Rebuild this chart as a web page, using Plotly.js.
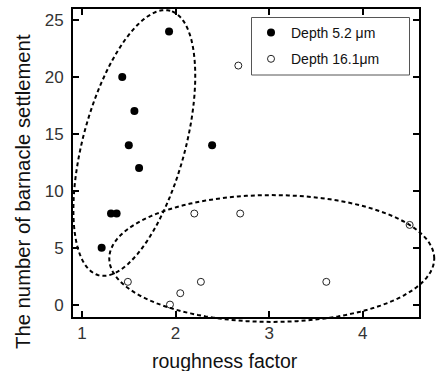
<!DOCTYPE html>
<html>
<head>
<meta charset="utf-8">
<script src="https://cdn.plot.ly/plotly-3.0.1.min.js"></script>
<style>html,body{margin:0;padding:0;background:#fff;}#chart{width:436px;height:371px;}</style>
</head>
<body>
<div id="chart"></div>
<script>
// Depth 5.2 µm (filled circles)
var shallowX = [1.93, 1.43, 1.56, 1.50, 1.61, 2.39, 1.31, 1.37, 1.21];
var shallowY = [24, 20, 17, 14, 12, 14, 8, 8, 5];
// Depth 16.1 µm (open circles)
var deepX = [2.67, 1.49, 2.05, 1.94, 2.20, 2.27, 2.69, 3.61, 4.50];
var deepY = [21, 2, 1, 0, 8, 2, 8, 2, 7];
var seriesNames = ['Depth 5.2 μm', 'Depth 16.1μm'];
var xTicks = [1, 2, 3, 4];
var yTicks = [0, 5, 10, 15, 20, 25];
var xTitle = 'roughness factor';
var yTitle = 'The number of barnacle settlement';

var W = 436, H = 371;
var M = {l: 73, r: 17, t: 9, b: 54};
var xr = [0.904, 4.60], yr = [-1.09, 25.97];
var pw = W - M.l - M.r, ph = H - M.t - M.b;

// dashed grouping ellipses: center in data units, semi-axes in px, angle in deg
function ellipsePath(cx, cy, a, b, ang) {
  var pcx = (cx - xr[0]) / (xr[1] - xr[0]) * pw;
  var pcy = (cy - yr[0]) / (yr[1] - yr[0]) * ph;
  var th = ang * Math.PI / 180, d = '';
  for (var i = 0; i <= 120; i++) {
    var t = i / 120 * 2 * Math.PI;
    var u = a * Math.cos(t), v = b * Math.sin(t);
    var dx = u * Math.cos(th) - v * Math.sin(th);
    var dy = u * Math.sin(th) + v * Math.cos(th);
    d += (i === 0 ? 'M' : 'L') + ((pcx + dx) / pw).toFixed(4) + ',' + ((pcy + dy) / ph).toFixed(4);
  }
  return d + 'Z';
}
var dashLine = {color: '#000', width: 2, dash: '4px,3px'};

var traces = [
  {x: shallowX, y: shallowY, mode: 'markers', type: 'scatter', name: seriesNames[0], legendgroup: 'a',
   marker: {color: '#000', size: 8, line: {width: 0}}},
  {x: deepX, y: deepY, mode: 'markers', type: 'scatter', name: seriesNames[1], legendgroup: 'b',
   marker: {color: '#fff', size: 7, symbol: 'circle', line: {color: '#222', width: 1}}}
];

var axisCommon = {
  showgrid: false, zeroline: false, showline: true, linecolor: '#000', linewidth: 2,
  mirror: 'allticks', ticks: 'inside', ticklen: 6, tickwidth: 2, tickcolor: '#000',
  tickfont: {family: 'Liberation Sans, Arial, sans-serif', size: 17, color: '#333'}
};

var layout = {
  width: W, height: H, margin: M, paper_bgcolor: '#fff', plot_bgcolor: '#fff',
  showlegend: true,
  font: {family: 'Liberation Sans, Arial, sans-serif', color: '#111'},
  xaxis: Object.assign({}, axisCommon, {range: xr, tickvals: xTicks, ticktext: xTicks.map(String)}),
  yaxis: Object.assign({}, axisCommon, {range: yr, tickvals: yTicks, ticktext: yTicks.map(String),
    ticklabelstandoff: 4}),
  legend: {x: (251 - M.l) / pw, y: 1 - (17 - M.t) / ph, xanchor: 'left', yanchor: 'top',
    bgcolor: 'rgba(0,0,0,0)', borderwidth: 0, tracegroupgap: 5,
    font: {size: 14, color: '#111'}, itemsizing: 'trace'},
  annotations: [
    {text: xTitle, xref: 'paper', yref: 'paper', x: (225 - M.l) / pw, y: -(361 - (H - M.b)) / ph,
     xanchor: 'center', yanchor: 'middle', showarrow: false, font: {size: 19.5, color: '#111'}},
    {text: yTitle, xref: 'paper', yref: 'paper', x: (23 - M.l) / pw, y: 1 - (192 - M.t) / ph,
     xanchor: 'center', yanchor: 'middle', textangle: -90, showarrow: false, font: {size: 20.3, color: '#111'}}
  ],
  shapes: [
    {type: 'rect', xref: 'paper', yref: 'paper', x0: (251.5 - M.l) / pw, x1: (409.5 - M.l) / pw,
     y0: 1 - (75 - M.t) / ph, y1: 1 - (17.5 - M.t) / ph, line: {color: '#555', width: 1}, fillcolor: '#fff', layer: 'above'},
    {type: 'path', xref: 'paper', yref: 'paper', path: ellipsePath(1.559, 14.2, 137, 51, 74.8), line: dashLine, layer: 'above'},
    {type: 'path', xref: 'paper', yref: 'paper', path: ellipsePath(3.027, 4.05, 162.5, 63.4, 0), line: dashLine, layer: 'above'}
  ]
};

Plotly.newPlot('chart', traces, layout, {displayModeBar: false, staticPlot: true});
</script>
</body>
</html>
